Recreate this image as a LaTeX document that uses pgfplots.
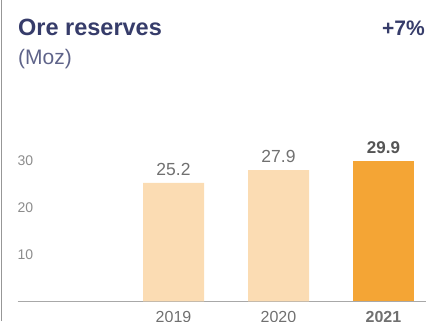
\documentclass[border=0pt]{standalone}
\usepackage{pgfplots}
\pgfplotsset{compat=1.18}
\usepackage{fontspec}
\setmainfont{Liberation Sans}
\definecolor{navy}{HTML}{363C6A}
\definecolor{subnavy}{HTML}{5E6389}
\definecolor{peach}{HTML}{FBDCB3}
\definecolor{orangebar}{HTML}{F4A535}
\definecolor{ticklab}{HTML}{8C8C8C}
\definecolor{vallab}{HTML}{707070}
\definecolor{vallabd}{HTML}{555555}
\definecolor{baseline}{HTML}{A8A8A8}
\begin{document}
\begin{tikzpicture}[x=1pt,y=1pt]
\useasboundingbox (0,0) rectangle (427,321);
\draw[color=baseline!90!black, line width=1.2pt] (1.5,0) -- (1.5,321);
\node[anchor=base west, inner sep=0pt, text=navy, font=\fontsize{23.5}{24}\selectfont\bfseries] at (18,285) {Ore reserves};
\node[anchor=base west, inner sep=0pt, text=subnavy, font=\fontsize{21}{24}\selectfont] at (18,256) {(Moz)};
\node[anchor=base east, inner sep=0pt, text=navy, font=\fontsize{21}{24}\selectfont\bfseries] at (425,285) {+7\%};
\begin{axis}[
  at={(17.5pt,19.7pt)}, anchor=south west,
  scale only axis, width=408.5pt, height=301.3pt,
  xmin=-1.486, xmax=2.405, ymin=0, ymax=64.1,
  axis x line=bottom, axis y line=left,
  x axis line style={-, draw=baseline, line width=1.3pt},
  y axis line style={draw=none},
  major tick length=0pt,
  xtick={0,1,2}, xticklabels={2019,2020,\textbf{2021}},
  ytick={10,20,30},
  xticklabel style={font=\fontsize{16}{16}\selectfont, text=ticklab!80!black, anchor=north, yshift=-6.5pt},
  yticklabel style={font=\fontsize{14}{14}\selectfont, text=ticklab, anchor=west, xshift=0pt, inner sep=0pt},
  /pgf/number format/assume math mode=true,
  clip=false,
  ybar, bar width=61pt, bar shift=0pt,
  nodes near coords,
  point meta=explicit symbolic,
]
\addplot[fill=peach, draw=none, nodes near coords style={font=\fontsize{17.5}{18}\selectfont, text=vallab, anchor=south, yshift=4pt}] table[meta=l] {
x y l
0 25.2 25.2
1 27.9 27.9
};
\addplot[fill=orangebar, draw=none, nodes near coords style={font=\fontsize{17}{18}\selectfont\bfseries, text=vallabd, anchor=south, yshift=4pt}] table[meta=l] {
x y l
2 29.9 29.9
};
\end{axis}
\end{tikzpicture}
\end{document}
